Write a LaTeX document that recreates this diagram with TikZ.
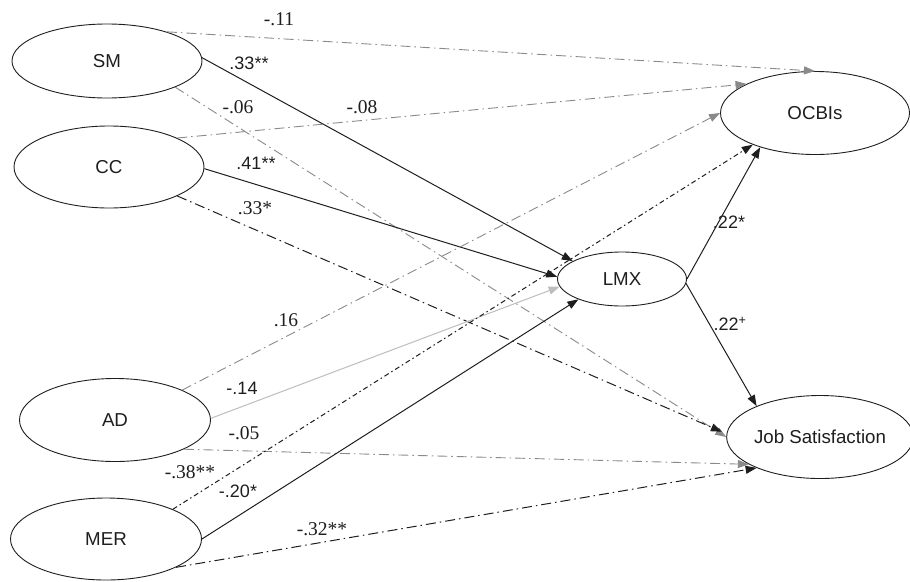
\documentclass[tikz,border=0pt]{standalone}
\usepackage{fontspec}
\setmainfont{Liberation Serif}
\setsansfont{Liberation Sans}
\usetikzlibrary{arrows.meta,shapes.geometric}
\definecolor{ink}{HTML}{1E1E1E}
\definecolor{midgray}{HTML}{8A8A8A}
\definecolor{palegray}{HTML}{BDBDBD}
\begin{document}
\begin{tikzpicture}[x=1pt,y=-1pt,
  latent/.style={ellipse,draw=ink,line width=0.9pt,inner sep=0pt,font=\sffamily\fontsize{18.7}{20}\selectfont,text=ink},
  tip/.style={-{Triangle[length=11pt,width=8pt]}},
  solidpath/.style={tip,draw=ink,line width=1pt},
  lightpath/.style={tip,draw=palegray,line width=1pt},
  graypath/.style={tip,draw=midgray,line width=0.9pt,dash pattern=on 10pt off 4pt on 1.5pt off 4pt},
  blackdd/.style={tip,draw=ink,line width=1pt,dash pattern=on 10pt off 4pt on 1.5pt off 4pt},
  blackdot/.style={tip,draw=ink,line width=1pt,dash pattern=on 5pt off 3pt on 1.5pt off 3pt},
  slab/.style={font=\sffamily\fontsize{18}{20}\selectfont,text=ink,inner sep=0pt},
  rlab/.style={font=\fontsize{19.5}{21}\selectfont,text=ink,inner sep=0pt}]
\useasboundingbox (0,0) rectangle (910,581);

% latent variables
\node[latent,minimum width=190pt,minimum height=74pt] (SM) at (107,61) {SM};
\node[latent,minimum width=190pt,minimum height=82pt] (CC) at (109,167) {CC};
\node[latent,minimum width=191pt,minimum height=83pt] (AD) at (115,420) {AD};
\node[latent,minimum width=191pt,minimum height=82pt] (MER) at (106,539) {MER};
\node[latent,minimum width=189pt,minimum height=83pt] (OCB) at (815,113) {OCBIs};
\node[latent,minimum width=129pt,minimum height=54pt] (LMX) at (622,279) {LMX};
\node[latent,minimum width=184pt,minimum height=83pt] (JS) at (820,437) {Job Satisfaction};

% paths from SM
\draw[graypath] (SM.26) -- (OCB.90);
\draw[solidpath] (SM.2) -- (LMX.160);
\draw[graypath] (SM.-21) -- (JS.180);

% paths from CC
\draw[graypath] (CC.23) -- (OCB.157);
\draw[solidpath] (CC.-1) -- (LMX.178);
\draw[blackdd,shorten >=5pt] (CC.-23) -- (JS.178);

% paths from AD
\draw[graypath] (AD.24) -- (OCB.180);
\draw[lightpath] (AD.1) -- (LMX.187);
\draw[graypath] (AD.-23) -- (JS.201);

% paths from MER
\draw[blackdot] (MER.24) -- (OCB.207);
\draw[solidpath] (MER.0) -- (LMX.205);
\draw[blackdd] (MER.-22) -- (JS.206);

% paths from LMX
\draw[solidpath] (LMX.east) -- (OCB.212);
\draw[solidpath] (LMX.-4) -- (JS.154);

% coefficients
\node[rlab] (l1) at (279,19) {-.11};
\node[slab] (l2) at (249,63) {.33**};
\node[rlab] (l3) at (238,107) {-.06};
\node[rlab] (l4) at (362,107) {-.08};
\node[slab] (l5) at (256,163) {.41**};
\node[rlab] (l6) at (255,208) {.33*};
\node[rlab] (l7) at (286,320) {.16};
\node[slab] (l8) at (242,388) {-.14};
\node[rlab] (l9) at (244,433) {-.05};
\node[rlab] (l10) at (190,472) {-.38**};
\node[slab] (l11) at (238,491) {-.20*};
\node[rlab] (l12) at (322,529) {-.32**};
\node[slab] (l13) at (729,222) {.22*};
\node[slab] (l14) at (730,324) {.22\textsuperscript{+}};
\end{tikzpicture}
\end{document}
